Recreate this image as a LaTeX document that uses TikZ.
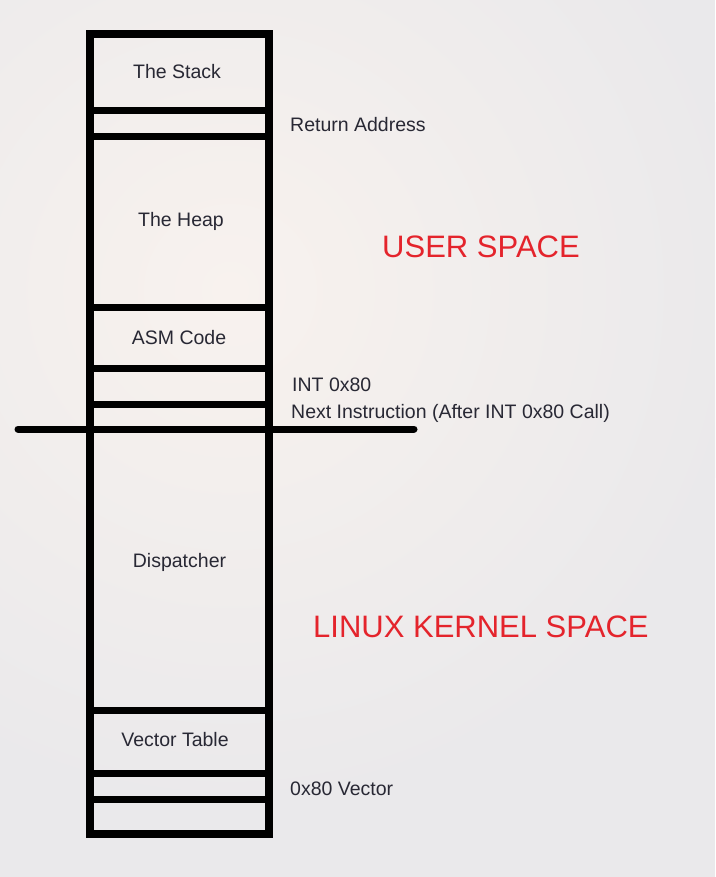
\documentclass[tikz,border=0pt]{standalone}
\usepackage{fontspec}
\setmainfont{Liberation Sans}
\definecolor{bgc}{RGB}{234,233,235}
\definecolor{bgwarm}{RGB}{248,242,238}
\definecolor{txt}{RGB}{40,40,52}
\definecolor{redt}{RGB}{228,36,44}
\begin{document}
\begin{tikzpicture}[x=1pt,y=-1pt,
  wall/.style={line width=7.5pt,draw=black},
  sep/.style={line width=7pt,draw=black},
  lbl/.style={font=\fontsize{19.5}{22}\selectfont,text=txt,inner sep=0pt,anchor=base},
  side/.style={lbl,anchor=base west},
  big/.style={font=\fontsize{31}{34}\selectfont,text=redt,inner sep=0pt,anchor=base west}]
\useasboundingbox (0,0) rectangle (715,877);
\begin{scope}
  \clip (0,0) rectangle (715,877);
  \fill[bgc] (0,0) rectangle (715,877);
  \shade[inner color=bgwarm,outer color=bgc] (230,290) circle (520);
\end{scope}
% outer box
\draw[wall] (90,34) rectangle (269,834);
% separators
\foreach \yy in {111,137,307,368,404,710,773,799}
  \draw[sep] (90,\yy) -- (269,\yy);
% user / kernel boundary
\coordinate (bl) at (18,429);
\coordinate (br) at (414,429);
\draw[sep,line cap=round] (bl) -- (br);
% labels
\node[lbl] (stack) at (177,79) {The Stack};
\node[lbl] (heap) at (181,227) {The Heap};
\node[lbl] (asm) at (179,344) {ASM Code};
\node[lbl] (disp) at (179.5,567) {Dispatcher};
\node[lbl] (vtab) at (175,746) {Vector Table};
\node[side] (ret) at (290,132) {Return Address};
\node[side] (int) at (292,391) {INT 0x80};
\node[side] (next) at (291,418.5) {Next Instruction (After INT 0x80 Call)};
\node[side] (vec) at (290,795) {0x80 Vector};
\node[big] (user) at (382,258) {USER SPACE};
\node[big] (kern) at (313,637) {LINUX KERNEL SPACE};
\end{tikzpicture}
\end{document}
